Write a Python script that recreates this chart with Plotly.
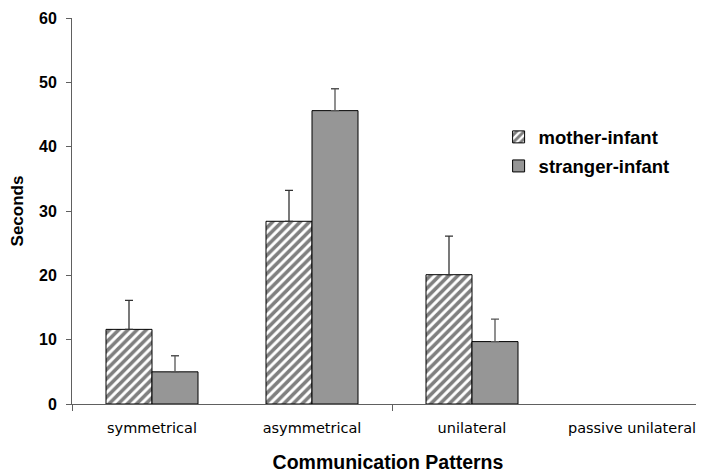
import plotly.graph_objects as go

categories = ["symmetrical", "asymmetrical", "unilateral", "passive unilateral"]
mother_infant = [11.6, 28.4, 20.1, None]
mother_err = [4.5, 4.8, 6.0, None]
stranger_infant = [5.0, 45.6, 9.7, None]
stranger_err = [2.5, 3.4, 3.5, None]
y_ticks = [0, 10, 20, 30, 40, 50, 60]

xpos = list(range(len(categories)))
FONT = "Arial, Liberation Sans, sans-serif"

fig = go.Figure()
fig.add_trace(go.Bar(
    x=xpos, y=mother_infant, name="mother-infant",
    marker=dict(color="white", line=dict(color="black", width=1),
                pattern=dict(shape="/", fgcolor="black", bgcolor="white",
                             size=6.5, solidity=0.55)),
    error_y=dict(type="data", array=mother_err, symmetric=False,
                 arrayminus=[0]*4, color="#333333", thickness=1.3, width=4),
    legendgroup="a",
))
fig.add_trace(go.Bar(
    x=xpos, y=stranger_infant, name="stranger-infant",
    marker=dict(color="#8a8a8a", line=dict(color="black", width=1),
                pattern=dict(shape=".", fgcolor="#555555", bgcolor="#a8a8a8",
                             size=2, solidity=0.5)),
    error_y=dict(type="data", array=stranger_err, symmetric=False,
                 arrayminus=[0]*4, color="#555555", thickness=1.3, width=4),
    legendgroup="b",
))
# invisible trace to host the secondary x axis carrying the boundary tick marks
fig.add_trace(go.Scatter(x=[-0.5, 1.5], y=[0, 0], xaxis="x2", mode="markers",
                         marker=dict(opacity=0), showlegend=False, hoverinfo="skip"))

xr = [-0.5, 3.45]
fig.update_layout(
    width=696, height=465,
    margin=dict(l=64, r=0, t=10, b=69, autoexpand=False),
    paper_bgcolor="white", plot_bgcolor="white",
    barmode="group", bargap=0.425, bargroupgap=0,
    font=dict(family=FONT, color="black"),
    showlegend=True,
    legend=dict(x=0.675, y=0.74, xanchor="left", yanchor="top",
                font=dict(family=FONT, size=18.5, color="black", weight="bold"),
                traceorder="grouped", tracegroupgap=2,
                bgcolor="rgba(0,0,0,0)", itemwidth=30),
    xaxis=dict(range=xr, tickvals=xpos, ticktext=categories, ticks="",
               showline=True, linecolor="#606060", linewidth=1,
               showgrid=False, zeroline=False, automargin=False,
               ticklabelstandoff=11,
               tickfont=dict(family="DejaVu Sans, sans-serif", size=14.5, color="black"),
               title=dict(text="Communication Patterns", standoff=20,
                          font=dict(family=FONT, size=19.5, color="black", weight="bold"))),
    xaxis2=dict(range=xr, overlaying="x", anchor="y", side="bottom",
                tickvals=[-0.5, 1.5, 3.5], ticks="outside", ticklen=6,
                tickcolor="#606060", showticklabels=False, showgrid=False,
                zeroline=False, showline=False, automargin=False),
    yaxis=dict(range=[0, 60], tickvals=y_ticks, ticks="outside", ticklen=5,
               tickcolor="#606060", showline=True, linecolor="#606060", linewidth=1,
               showgrid=False, zeroline=False, automargin=True,
               ticklabelstandoff=6,
               tickfont=dict(family=FONT, size=16, color="black", weight="bold"),
               title=dict(text="Seconds", standoff=19,
                          font=dict(family=FONT, size=17, color="black", weight="bold"))),
)

fig.write_html("out.html")
